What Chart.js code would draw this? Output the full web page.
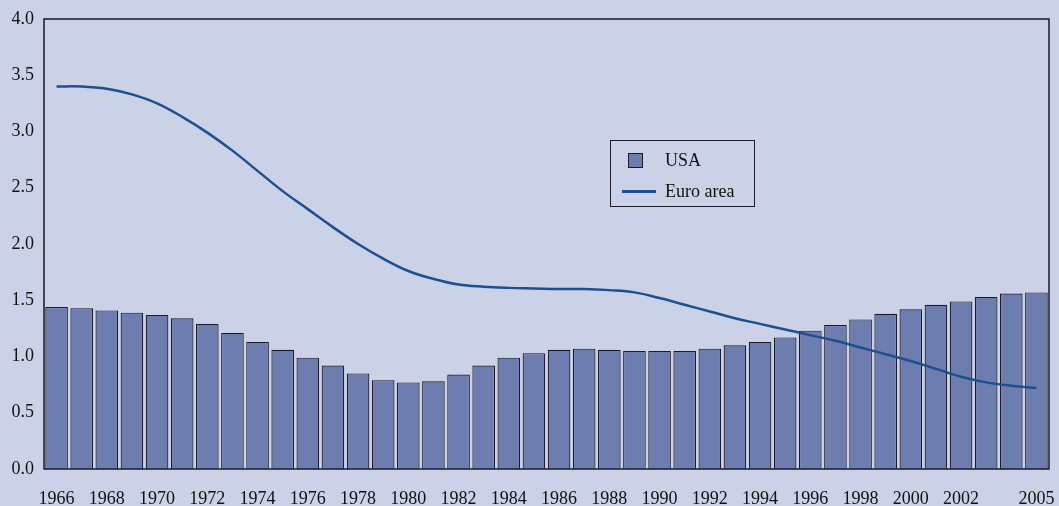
<!DOCTYPE html>
<html>
<head>
<meta charset="utf-8">
<script src="https://cdn.jsdelivr.net/npm/chart.js@4/dist/chart.umd.min.js"></script>
<style>
  html, body { margin: 0; padding: 0; background: #cbd2e7; }
  #wrap { position: relative; width: 1059px; height: 506px; }
  #legend {
    position: absolute; left: 610px; top: 140px; width: 145px; height: 67px;
    border: 1px solid #1a1a2a; box-sizing: border-box;
    font-family: "Liberation Serif", "DejaVu Serif", serif; font-size: 18px; color: #111;
  }
  #legend .item { position: absolute; }
  #legend .sq { width: 15px; height: 15px; background: #6e7db0; border: 1px solid #1a1a2a; box-sizing: border-box; }
  #legend .ln { width: 34px; height: 3px; background: #1d4f91; }
  #legend .txt { line-height: 20px; }
</style>
</head>
<body>
<div id="wrap">
  <canvas id="chart" width="1059" height="506"></canvas>
  <div id="legend">
    <div class="item sq" style="left:17px; top:12px;"></div>
    <div class="item txt" style="left:54px; top:9px;">USA</div>
    <div class="item ln" style="left:11px; top:49px;"></div>
    <div class="item txt" style="left:54px; top:40px;">Euro area</div>
  </div>
</div>
<script>
const years = [];
for (let y = 1966; y <= 2005; y++) years.push(String(y));

const usa = [1.44, 1.43, 1.41, 1.39, 1.37, 1.34, 1.29, 1.21, 1.13, 1.06,
             0.99, 0.92, 0.85, 0.79, 0.77, 0.78, 0.84, 0.92, 0.99, 1.03,
             1.06, 1.07, 1.06, 1.05, 1.05, 1.05, 1.07, 1.10, 1.13, 1.17,
             1.23, 1.28, 1.33, 1.38, 1.42, 1.46, 1.49, 1.53, 1.56, 1.57];

const euroArea = [3.40, 3.40, 3.38, 3.33, 3.25, 3.13, 2.99, 2.83, 2.65, 2.47,
                  2.31, 2.15, 2.00, 1.87, 1.76, 1.69, 1.64, 1.62, 1.61, 1.605,
                  1.60, 1.60, 1.59, 1.57, 1.52, 1.46, 1.40, 1.34, 1.29, 1.24,
                  1.19, 1.14, 1.08, 1.02, 0.96, 0.89, 0.82, 0.77, 0.74, 0.72];

const shownYears = ['1966','1968','1970','1972','1974','1976','1978','1980','1982','1984',
                    '1986','1988','1990','1992','1994','1996','1998','2000','2002','2005'];

// box round the plot area
const frame = {
  id: 'frame',
  afterDraw(chart) {
    const a = chart.chartArea, ctx = chart.ctx;
    ctx.save();
    ctx.strokeStyle = '#1a1a2a';
    ctx.lineWidth = 1.5;
    ctx.strokeRect(a.left, a.top, a.right - a.left, a.bottom - a.top);
    ctx.restore();
  }
};

Chart.defaults.font.family = '"Liberation Serif", "DejaVu Serif", serif';
Chart.defaults.font.size = 18;
Chart.defaults.color = '#111';

new Chart(document.getElementById('chart'), {
  data: {
    labels: years,
    datasets: [
      {
        type: 'line',
        label: 'Euro area',
        data: euroArea,
        borderColor: '#1d4f91',
        borderWidth: 2.5,
        pointRadius: 0,
        tension: 0.4,
        fill: false,
        order: 0
      },
      {
        type: 'bar',
        label: 'USA',
        data: usa,
        backgroundColor: '#6e7db0',
        borderColor: '#1a1a2a',
        borderWidth: 1.2,
        categoryPercentage: 1,
        barPercentage: 0.9,
        order: 1
      }
    ]
  },
  options: {
    responsive: false,
    animation: false,
    layout: { padding: { top: 19, right: 10, left: 0, bottom: 0 } },
    plugins: { legend: { display: false }, tooltip: { enabled: false } },
    scales: {
      x: {
        offset: true,
        grid: { display: false, drawTicks: false },
        border: { display: false },
        ticks: {
          autoSkip: false,
          maxRotation: 0,
          padding: 19,
          callback: function(value) {
            const y = this.getLabelForValue(value);
            return shownYears.includes(y) ? y : '';
          }
        },
        afterFit: s => { s.height = 37; s.paddingRight = 0; s.paddingLeft = 0; }
      },
      y: {
        min: 0,
        max: 4,
        grid: { display: false, drawTicks: false },
        border: { display: false },
        ticks: {
          stepSize: 0.5,
          padding: 10,
          callback: v => v.toFixed(1)
        },
        afterFit: s => { s.width = 44; s.paddingTop = 0; s.paddingBottom = 0; }
      }
    }
  },
  plugins: [frame]
});
</script>
</body>
</html>
